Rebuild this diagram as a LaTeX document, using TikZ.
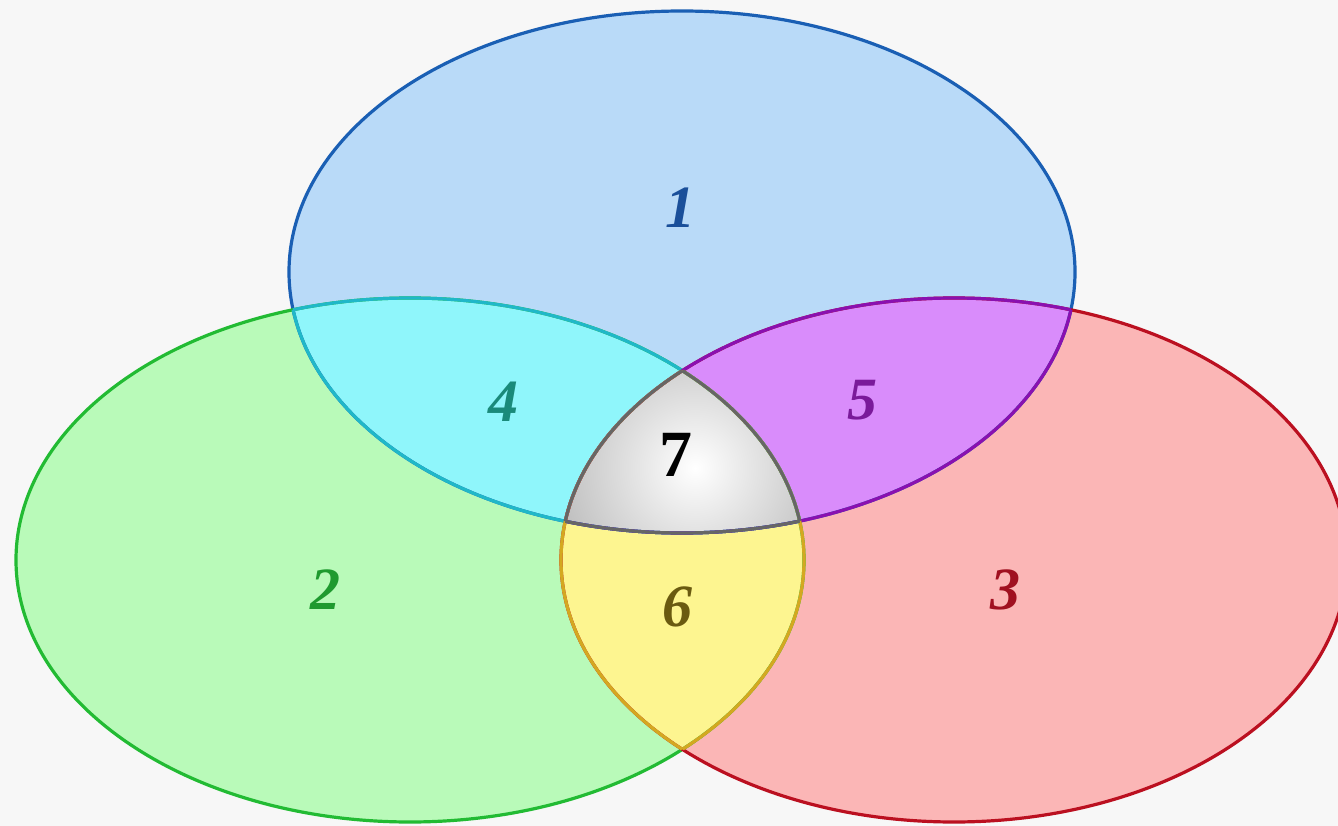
\documentclass[tikz,border=0pt]{standalone}
\usepackage{fontspec}
\setmainfont{Liberation Serif}
\begin{document}
\begin{tikzpicture}[x=1pt,y=-1pt,
  EA/.style={insert path={(682,272) ellipse [x radius=393pt, y radius=261pt]}},
  EB/.style={insert path={(410,560) ellipse [x radius=394pt, y radius=262pt]}},
  EC/.style={insert path={(954,560) ellipse [x radius=393pt, y radius=262pt]}},
  bord/.style={line width=3.2pt},
  num/.style={font=\fontsize{60}{60}\selectfont\bfseries\itshape, inner sep=0pt}
]
\definecolor{bg}{HTML}{F7F7F7}
\definecolor{fA}{HTML}{B9DAF8}
\definecolor{fB}{HTML}{B9FAB9}
\definecolor{fC}{HTML}{FBB6B6}
\definecolor{fAB}{HTML}{8FF6FB}
\definecolor{fAC}{HTML}{D98CFB}
\definecolor{fBC}{HTML}{FDF590}
\definecolor{lA}{HTML}{1A5FB4}
\definecolor{lB}{HTML}{22BB33}
\definecolor{lC}{HTML}{BB1020}
\definecolor{lAB}{HTML}{20B8C8}
\definecolor{lAC}{HTML}{8A10B0}
\definecolor{lBC}{HTML}{D4A820}
\definecolor{lABC}{HTML}{666666}
\definecolor{tA}{HTML}{1A4F9A}
\definecolor{tB}{HTML}{1F9A2F}
\definecolor{tC}{HTML}{A01020}
\definecolor{tAB}{HTML}{1A8A7A}
\definecolor{tAC}{HTML}{7A1A9A}
\definecolor{tBC}{HTML}{6A5A10}
\useasboundingbox (0,0) rectangle (1338,826);
\fill[bg] (0,0) rectangle (1338,826);
% base fills
\fill[fA, EA];
\fill[fB, EB];
\fill[fC, EC];
% pairwise fills
\begin{scope}\clip[EA]; \fill[fAB, EB]; \end{scope}
\begin{scope}\clip[EA]; \fill[fAC, EC]; \end{scope}
\begin{scope}\clip[EB]; \fill[fBC, EC]; \end{scope}
% triple
\begin{scope}\clip[EA]; \clip[EB];
  \clip[EC];
  \shade[inner color=white, outer color=gray!75] (695,468) circle [radius=210pt];
\end{scope}
% base borders
\draw[bord, lA, EA];
\draw[bord, lB, EB];
\draw[bord, lC, EC];
% pairwise border segments
\begin{scope}\clip[EB]; \draw[bord, lAB, EA]; \end{scope}
\begin{scope}\clip[EA]; \draw[bord, lAB, EB]; \end{scope}
\begin{scope}\clip[EC]; \draw[bord, lAC, EA]; \end{scope}
\begin{scope}\clip[EA]; \draw[bord, lAC, EC]; \end{scope}
\begin{scope}\clip[EC]; \draw[bord, lBC, EB]; \end{scope}
\begin{scope}\clip[EB]; \draw[bord, lBC, EC]; \end{scope}
% triple border segments
\begin{scope}\clip[EB]; \clip[EC]; \draw[bord, lABC, EA]; \end{scope}
\begin{scope}\clip[EA]; \clip[EC]; \draw[bord, lABC, EB]; \end{scope}
\begin{scope}\clip[EA]; \clip[EB]; \draw[bord, lABC, EC]; \end{scope}
% labels
\node[num, text=tA] (n1) at (680,208) {1};
\node[num, text=tB] (n2) at (325,590) {2};
\node[num, text=tC] (n3) at (1005,590) {3};
\node[num, text=tAB] (n4) at (503,402) {4};
\node[num, text=tAC] (n5) at (862,400) {5};
\node[num, text=tBC] (n6) at (677,607) {6};
\node[inner sep=0pt, font=\fontsize{66}{66}\selectfont\bfseries] (n7) at (676,455) {7};
\end{tikzpicture}
\end{document}
